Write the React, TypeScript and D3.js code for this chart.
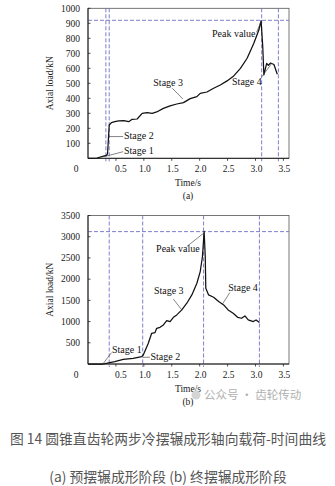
import React from "react";
import * as d3 from "d3";

// ---------- data ----------
const timeA = [0, 0.16, 0.28, 0.33, 0.35, 0.38, 0.42, 0.48, 0.55, 0.64, 0.73, 0.79, 0.88, 0.97, 1.06, 1.15, 1.23, 1.35, 1.47, 1.59, 1.71, 1.83, 1.95, 2.01, 2.13, 2.25, 2.37, 2.49, 2.61, 2.73, 2.85, 2.97, 3.06, 3.1, 3.13, 3.15, 3.2, 3.23, 3.27, 3.33, 3.39];
const loadA = [0, 2, 15, 20, 30, 222, 238, 244, 249, 251, 244, 260, 262, 300, 304, 300, 309, 333, 349, 362, 371, 398, 411, 433, 442, 467, 489, 516, 549, 600, 667, 767, 855, 917, 744, 556, 633, 620, 635, 625, 560];

const timeB = [0, 0.27, 0.39, 0.48, 0.63, 0.81, 0.96, 0.99, 1.08, 1.14, 1.2, 1.23, 1.29, 1.35, 1.41, 1.47, 1.53, 1.59, 1.68, 1.77, 1.86, 1.95, 2.01, 2.05, 2.08, 2.1, 2.11, 2.16, 2.25, 2.34, 2.43, 2.51, 2.6, 2.68, 2.75, 2.81, 2.87, 2.96, 3.01, 3.07];
const loadB = [0, 0, 31, 55, 110, 134, 173, 212, 488, 724, 740, 842, 865, 920, 1023, 1000, 1101, 1157, 1275, 1432, 1629, 1904, 2179, 2533, 3123, 2533, 1786, 1629, 1574, 1471, 1393, 1275, 1196, 1101, 1078, 1133, 1039, 1000, 1039, 976];

const xTicks = [0.5, 1.0, 1.5, 2.0, 2.5, 3.0, 3.5];
const yTicksA = [100, 200, 300, 400, 500, 600, 700, 800, 900, 1000];
const yTicksB = [500, 1000, 1500, 2000, 2500, 3000, 3500];

const vLinesA = [0.32, 0.38, 3.11, 3.41];
const hLineA = 920;
const vLinesB = [0.38, 0.98, 2.07, 3.07];
const hLineB = 3120;

// annotation: label, label anchor (t, v), leader from (t, v) to (t, v)
const labelsA = ["Stage 1", "Stage 2", "Stage 3", "Stage 4", "Peak value"];
const labelPosA = [[0.645, 29], [0.645, 130], [1.17, 482], [2.58, 489], [2.22, 809]];
const leaderFromA = [[0.63, 44], [0.63, 145], [1.51, 467], [3.11, 542], [3.02, 840]];
const leaderToA = [[0.29, 11], [0.36, 145], [1.7, 395], [3.29, 633], [3.1, 912]];

const labelsB = ["Stage 1", "Stage 2", "Stage 3", "Stage 4", "Peak value"];
const labelPosB = [[0.43, 271], [1.12, 94], [1.18, 1652], [2.51, 1711], [1.22, 2632]];
const leaderFromB = [[0.42, 267], [1.11, 158], [1.53, 1527], [2.54, 1683], [1.77, 2768]];
const leaderToB = [[0.275, 15], [0.98, 158], [1.68, 1275], [2.41, 1416], [2.07, 3083]];

const caption1 = "图 14 圆锥直齿轮两步冷摆辗成形轴向载荷-时间曲线";
const caption2 = "(a) 预摆辗成形阶段 (b) 终摆辗成形阶段";
const watermark = "公众号 · 齿轮传动";

const serif = "'Liberation Serif', 'DejaVu Serif', serif";
const sans = "'Noto Sans CJK SC', 'Noto Sans', sans-serif";
const dashColor = "#6f6fc4";

type PanelProps = {
  times: number[];
  loads: number[];
  yMax: number;
  yTicks: number[];
  top: number;
  bottom: number;
  vLines: number[];
  hLine: number;
  labels: string[];
  labelPos: number[][];
  leaderFrom: number[][];
  leaderTo: number[][];
  tag: string;
};

function Panel(p: PanelProps) {
  const x = d3.scaleLinear().domain([0, 3.6]).range([88, 289]);
  const y = d3.scaleLinear().domain([0, p.yMax]).range([p.bottom, p.top]);
  const pts = p.times.map((t, i) => [t, p.loads[i]] as [number, number]);
  const line = d3
    .line<[number, number]>()
    .x((d) => x(d[0]))
    .y((d) => y(d[1]));
  const x0 = x(0);
  const x1 = x(3.6);
  return (
    <g>
      <rect x={x0} y={p.top} width={x1 - x0} height={p.bottom - p.top} fill="none" stroke="#555" strokeWidth={0.8} />
      {p.vLines.map((t, i) => (
        <line key={"v" + i} x1={x(t)} x2={x(t)} y1={p.top} y2={p.bottom + 3} stroke={dashColor} strokeWidth={0.9} strokeDasharray="4,2" />
      ))}
      <line x1={x0} x2={x1} y1={y(p.hLine)} y2={y(p.hLine)} stroke={dashColor} strokeWidth={0.9} strokeDasharray="4,2" />
      <line x1={x0} x2={x1} y1={p.bottom} y2={p.bottom} stroke="#222" strokeWidth={1} />
      <line x1={x0} x2={x0} y1={p.top} y2={p.bottom} stroke="#222" strokeWidth={1} />
      {p.yTicks.map((v) => (
        <g key={"y" + v}>
          <line x1={x0} x2={x0 + 2.5} y1={y(v)} y2={y(v)} stroke="#222" strokeWidth={0.8} />
          <text x={x0 - 8} y={y(v)} dy="0.35em" textAnchor="end" fontFamily={serif} fontSize={9.5} fill="#1a1a1a">
            {v}
          </text>
        </g>
      ))}
      {xTicks.map((t) => (
        <g key={"x" + t}>
          <line x1={x(t)} x2={x(t)} y1={p.bottom} y2={p.bottom + 2.5} stroke="#222" strokeWidth={0.8} />
          <text x={x(t) + (t === 0.5 ? 5 : 1)} y={p.bottom + 14} textAnchor="middle" fontFamily={serif} fontSize={9.5} fill="#1a1a1a">
            {t.toFixed(1)}
          </text>
        </g>
      ))}
      <text x={76} y={p.bottom + 14} textAnchor="middle" fontFamily={serif} fontSize={9.5} fill="#1a1a1a">
        0
      </text>
      <path d={line(pts) || ""} fill="none" stroke="#111" strokeWidth={1.25} strokeLinejoin="round" />
      {p.labels.map((s, i) => (
        <g key={"a" + i}>
          <line
            x1={x(p.leaderFrom[i][0])}
            y1={y(p.leaderFrom[i][1])}
            x2={x(p.leaderTo[i][0])}
            y2={y(p.leaderTo[i][1])}
            stroke="#333"
            strokeWidth={0.6}
          />
          <text x={x(p.labelPos[i][0])} y={y(p.labelPos[i][1])} fontFamily={serif} fontSize={10} fill="#111">
            {s}
          </text>
        </g>
      ))}
      <text
        transform={`translate(${50},${(p.top + p.bottom) / 2}) rotate(-90)`}
        textAnchor="middle"
        dy="0.35em"
        fontFamily={serif}
        fontSize={9.5}
        fill="#1a1a1a"
      >
        Axial load/kN
      </text>
      <text x={188} y={p.bottom + 27.5} textAnchor="middle" fontFamily={serif} fontSize={9.5} fill="#1a1a1a">
        Time/s
      </text>
      <text x={188} y={p.bottom + 41} textAnchor="middle" fontFamily={serif} fontSize={9.5} fill="#1a1a1a">
        {p.tag}
      </text>
    </g>
  );
}

export default function App() {
  return (
    <svg width={335} height={486} style={{ position: "absolute", left: 0, top: 0, background: "#fff" }}>
      <rect width={335} height={486} fill="#fff" />
      <Panel
        times={timeA}
        loads={loadA}
        yMax={1000}
        yTicks={yTicksA}
        top={8.3}
        bottom={158.3}
        vLines={vLinesA}
        hLine={hLineA}
        labels={labelsA}
        labelPos={labelPosA}
        leaderFrom={leaderFromA}
        leaderTo={leaderToA}
        tag="(a)"
      />
      <Panel
        times={timeB}
        loads={loadB}
        yMax={3500}
        yTicks={yTicksB}
        top={215.5}
        bottom={364}
        vLines={vLinesB}
        hLine={hLineB}
        labels={labelsB}
        labelPos={labelPosB}
        leaderFrom={leaderFromB}
        leaderTo={leaderToB}
        tag="(b)"
      />
      <circle cx={196} cy={395} r={4.5} fill="#d4d4d4" />
      <text x={204} y={399} fontFamily={sans} fontSize={11.5} fill="#b0b0b0">
        {watermark}
      </text>
      <text x={168} y={444} textAnchor="middle" fontFamily={sans} fontSize={13.8} fill="#555">
        {caption1}
      </text>
      <text x={168} y={482} textAnchor="middle" fontFamily={sans} fontSize={13.8} fill="#555">
        {caption2}
      </text>
    </svg>
  );
}
